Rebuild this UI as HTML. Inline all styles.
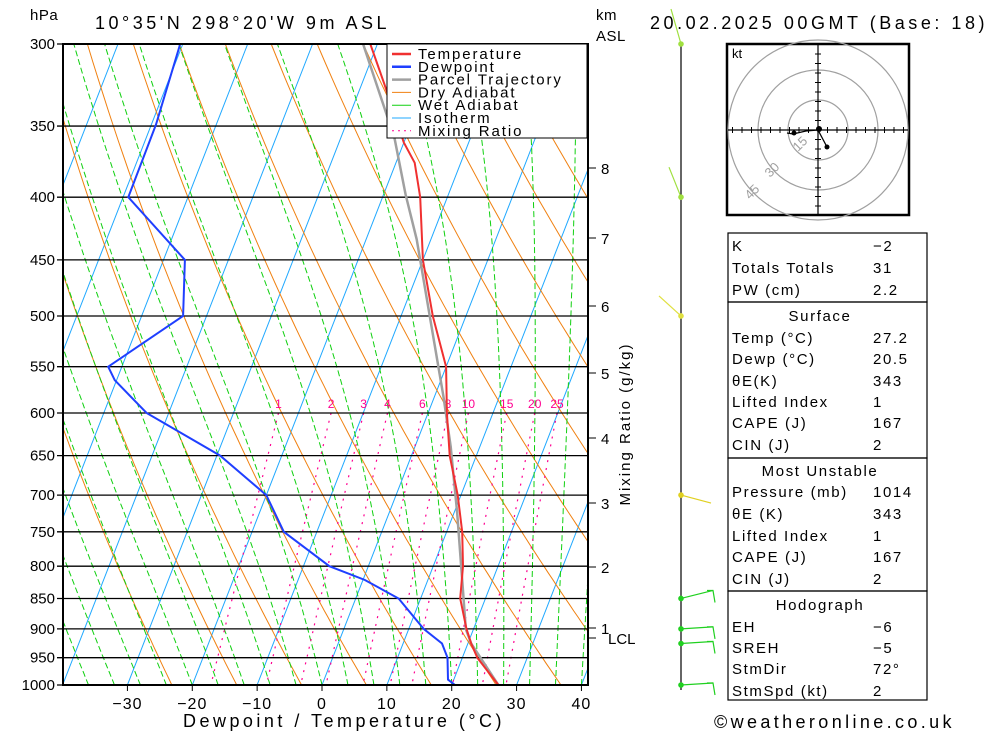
<!DOCTYPE html>
<html><head><meta charset="utf-8"><style>
html,body{margin:0;padding:0;background:#fff;}
svg{display:block;font-family:"Liberation Sans",sans-serif;}
.t{font-size:15px;fill:#000;letter-spacing:0.5px}
.s{font-size:14px;fill:#000}
</style></head><body>
<svg id="chart" width="1000" height="733" viewBox="0 0 1000 733" xmlns="http://www.w3.org/2000/svg">
<defs><clipPath id="plot"><rect x="63" y="44" width="525" height="641"/></clipPath></defs>
<text x="30" y="20" class="t">hPa</text>
<text x="95" y="29" class="t" style="font-size:18px" textLength="292" lengthAdjust="spacing">10°35'N  298°20'W  9m  ASL</text>
<text x="596" y="20" class="t">km</text>
<text x="596" y="41" class="t">ASL</text>
<text x="650" y="29" class="t" style="font-size:18px" textLength="335" lengthAdjust="spacing">20.02.2025 00GMT (Base: 18)</text>
<g id="bg" clip-path="url(#plot)"></g>
<g id="isobars"></g>
<g id="profiles" clip-path="url(#plot)"></g>
<rect x="63" y="44" width="525" height="641" fill="none" stroke="#000" stroke-width="2"/>
<g id="legend">
<rect x="387" y="44" width="200" height="94" fill="#fff" stroke="#000" stroke-width="1"/>
</g>
<g id="axes"></g>
<text x="183" y="727" class="t" style="font-size:18px" textLength="319" lengthAdjust="spacing">Dewpoint / Temperature (°C)</text>
<text transform="translate(630,424) rotate(-90)" text-anchor="middle" class="t" style="letter-spacing:2px">Mixing Ratio (g/kg)</text>
<g id="winds"></g>
<g id="hodo">
<rect x="727" y="44" width="182" height="171" fill="#fff" stroke="#000" stroke-width="2.5"/>
<text x="732" y="58" class="s" style="font-size:13px">kt</text>
</g>
<g id="table"></g>
<text x="714" y="728" class="t" style="font-size:18px" textLength="238" lengthAdjust="spacing">©weatheronline.co.uk</text>
</svg>
<script>
// ---- data ----
const tempP=[1000,950,925,900,850,800,750,700,650,600,550,500,450,400,375,361,323,300];
const tempT=[27.2,22.3,20.5,18.9,16.1,14.6,12.4,9.5,5.9,2.9,0.0,-5.1,-10.0,-14.2,-17.1,-20.0,-26.6,-31.1];
const dewP=[1000,990,950,925,900,850,821,800,750,700,650,600,564,550,500,450,400,349,300];
const dewT=[20.5,19.1,17.7,16.0,12.3,6.6,0.3,-6.0,-15.1,-20.0,-29.5,-43.4,-50.3,-52.1,-43.6,-46.7,-59.2,-59.3,-60.4];
const parP=[1000,925,900,821,724,639,582,433,398,358,300];
const parT=[27.2,20.5,18.8,15.3,10.5,5.5,1.4,-12.2,-16.6,-21.7,-32.2];
const pLevels=[300,350,400,450,500,550,600,650,700,750,800,850,900,950,1000];
const tTicks=[-30,-20,-10,0,10,20,30,40];
const mixR=[1,2,3,4,6,8,10,15,20,25];
const kmLabels=[8,7,6,5,4,3,2,1];
const kmY=[168,238,306,373,438,503,567,628];
const windP=[300,400,500,700,850,900,925,1000];
// ---- axes ----
const NS='http://www.w3.org/2000/svg';
function yP(p){return 44+Math.log(p/300)/Math.log(1000/300)*641;}
function xT(T,p){return 322+6.486*T+0.39*(685-yP(p));}
function mk(tag,attrs,parent){const e=document.createElementNS(NS,tag);for(const k in attrs)e.setAttribute(k,attrs[k]);parent.appendChild(e);return e;}
function poly(pts,style,parent){return mk('polyline',Object.assign({points:pts.map(q=>q[0].toFixed(1)+','+q[1].toFixed(1)).join(' '),fill:'none'},style),parent);}
const bg=document.getElementById('bg');
for(let T=-120;T<=40;T+=10){const l=poly([[xT(T,1000),yP(1000)],[xT(T,300),yP(300)]],{stroke:'#1fa8ff','stroke-width':1},bg);

}
for(let th=250;th<=480;th+=10){const pts=[];for(let p=300;p<=1000;p+=10){pts.push([xT(th*Math.pow(p/1000,0.286)-273.15,p),yP(p)]);}
const l=poly(pts,{stroke:'#f08010','stroke-width':1},bg);

}
function es(T){return 6.112*Math.exp(17.67*T/(T+243.5));}
for(let T0=-40;T0<=40;T0+=4){let T=T0+273.15;const pts=[[xT(T0,1000),yP(1000)]];
for(let p=1000;p>300;p-=5){const rs=0.622*es(T-273.15)/(p-es(T-273.15));const dTdp=(287*T+2.5e6*rs)/(p*(1004+2.5e6*2.5e6*rs*0.622/(287*T*T)));T-=dTdp*5;pts.push([xT(T-273.15,p-5),yP(p-5)]);}
const l=poly(pts,{stroke:'#10d010','stroke-width':1,'stroke-dasharray':'6,3'},bg);

}
for(const w of mixR){const pts=[];for(let p=600;p<=1000;p+=20){const e=w*p/(622+w);const L=Math.log(e/6.112);const Td=243.5*L/(17.67-L);pts.push([xT(Td,p),yP(p)]);}
const l=poly(pts,{stroke:'#ff0090','stroke-width':1.2,'stroke-dasharray':'2,6'},bg);


const t=mk('text',{x:pts[0][0].toFixed(1),y:408,'text-anchor':'middle',fill:'#ff0090','font-size':12},bg);t.textContent=w;

}
const iso=document.getElementById('isobars');
for(const p of pLevels){const y=yP(p);const l=mk('line',{x1:57,x2:588,y1:y,y2:y,stroke:'#000','stroke-width':1.3},iso);


const t=mk('text',{x:55,y:y+5,'text-anchor':'end','font-size':15},iso);t.textContent=p;

}
const ax=document.getElementById('axes');
for(const T of tTicks){const x=xT(T,1000);mk('line',{x1:x,x2:x,y1:685,y2:691,stroke:'#000','stroke-width':1},ax);
const t=mk('text',{x:x,y:709,'text-anchor':'middle','font-size':16,'letter-spacing':'1'},ax);t.textContent=T.toString().replace('-','−');

}
kmLabels.forEach((k,i)=>{mk('line',{x1:588,x2:596,y1:kmY[i],y2:kmY[i],stroke:'#000'},ax);
const t=mk('text',{x:601,y:kmY[i]+6,'font-size':15},ax);t.textContent=k;

});
mk('line',{x1:588,x2:596,y1:638,y2:638,stroke:'#000'},ax);
const lcl=mk('text',{x:608,y:644,'font-size':15},ax);lcl.textContent='LCL';


const pr=document.getElementById('profiles');
function prof(P,T,col,w,name){const l=poly(P.map((p,i)=>[xT(T[i],p),yP(p)]),{stroke:col,'stroke-width':w},pr);return l;}
const pl=prof(parP,parT,'#a0a0a0',2.5,'parcel-line');

const tl=prof(tempP,tempT,'#f03030',2,'temperature-line');

const dl=prof(dewP,dewT,'#1f3fff',2,'dewpoint-line');

const lg=document.getElementById('legend');
[['Temperature','#f03030',2.5,''],['Dewpoint','#1f3fff',2.5,''],['Parcel Trajectory','#a0a0a0',2.5,''],['Dry Adiabat','#f08010',1,''],['Wet Adiabat','#10d010',1,''],['Isotherm','#1fa8ff',1,''],['Mixing Ratio','#ff0090',1,'2,4']].forEach((e,i)=>{const y=54+i*12.8;
mk('line',{x1:392,x2:411,y1:y,y2:y,stroke:e[1],'stroke-width':e[2],'stroke-dasharray':e[3]||'none'},lg);
const t=mk('text',{x:418,y:y+5,'font-size':15,'letter-spacing':'1.9'},lg);t.textContent=e[0];

});
const wg=document.getElementById('winds');
mk('line',{x1:681,x2:681,y1:44,y2:690,stroke:'#000','stroke-width':1.2},wg);
const wcol=['#a0e040','#a0e040','#e0e040','#e0d020','#20d020','#20d020','#20d020','#20d020'];
const wdx=[[-10,-35],[-12,-30],[-22,-20],[30,8],[32,-8],[32,-2],[32,-2],[32,-2]];
windP.forEach((p,i)=>{const y=yP(p);const d=wdx[i];
mk('line',{x1:681,y1:y,x2:681+d[0],y2:y+d[1],stroke:wcol[i],'stroke-width':1.2},wg);
if(i>=4){mk('polyline',{points:`${681+d[0]-6},${y+d[1]} ${681+d[0]},${y+d[1]} ${681+d[0]+2},${y+d[1]+12}`,fill:'none',stroke:wcol[i],'stroke-width':1.2},wg);}
const c=mk('circle',{cx:681,cy:y,r:2.8,fill:wcol[i]},wg);

});
const hg=document.getElementById('hodo');const cx=818,cy=130;
[30,60,90].forEach(r=>mk('circle',{cx:cx,cy:cy,r:r,fill:'none',stroke:'#a0a0a0','stroke-width':1.2},hg));
mk('line',{x1:728,x2:908,y1:cy,y2:cy,stroke:'#000','stroke-width':1.2},hg);
mk('line',{x1:cx,x2:cx,y1:45,y2:214,stroke:'#000','stroke-width':1.2},hg);
for(let k=-9;k<=9;k++){if(k==0)continue;mk('line',{x1:cx+k*9.5,x2:cx+k*9.5,y1:cy-3,y2:cy+3,stroke:'#000'},hg);mk('line',{x1:cx-3,x2:cx+3,y1:cy+k*9.5,y2:cy+k*9.5,stroke:'#000'},hg);}
[['15',798,152],['30',770,178],['45',750,200]].forEach(a=>{const t=mk('text',{x:a[1],y:a[2],fill:'#a0a0a0','font-size':13,transform:`rotate(-45 ${a[1]} ${a[2]})`},hg);t.textContent=a[0];});
mk('polyline',{points:`827,147 818,130 806,131 793,134 787,133`,fill:'none',stroke:'#000','stroke-width':1.3},hg);
mk('circle',{cx:827,cy:147,r:2.5,fill:'#000'},hg);mk('circle',{cx:794,cy:133,r:2.5,fill:'#000'},hg);mk('circle',{cx:819,cy:129,r:3,fill:'#000'},hg);
const tb=document.getElementById('table');
function box(y1,y2){mk('rect',{x:728,y:y1,width:199,height:y2-y1,fill:'none',stroke:'#000','stroke-width':1.2},tb);}
box(233,302);box(302,458);box(458,591);box(591,700);
const rows=[['K','−2',252],['Totals Totals','31',274],['PW (cm)','2.2',296],
['#Surface','',322],['Temp (°C)','27.2',344],['Dewp (°C)','20.5',365],['θE(K)','343',387],['Lifted Index','1',408],['CAPE (J)','167',429],['CIN (J)','2',451],
['#Most Unstable','',477],['Pressure (mb)','1014',498],['θE (K)','343',520],['Lifted Index','1',542],['CAPE (J)','167',563],['CIN (J)','2',585],
['#Hodograph','',611],['EH','−6',633],['SREH','−5',654],['StmDir','72°',675],['StmSpd (kt)','2',697]];
rows.forEach(r=>{if(r[0][0]=='#'){const t=mk('text',{x:820,y:r[2]-1,'text-anchor':'middle','font-size':15,'letter-spacing':'1.6'},tb);t.textContent=r[0].slice(1);

return;}
const a=mk('text',{x:732,y:r[2]-1,'font-size':15,'letter-spacing':'1.6'},tb);a.textContent=r[0];


const b=mk('text',{x:873,y:r[2]-1,'font-size':15,'letter-spacing':'1.6'},tb);b.textContent=r[1];

});
</script>
</body></html>
